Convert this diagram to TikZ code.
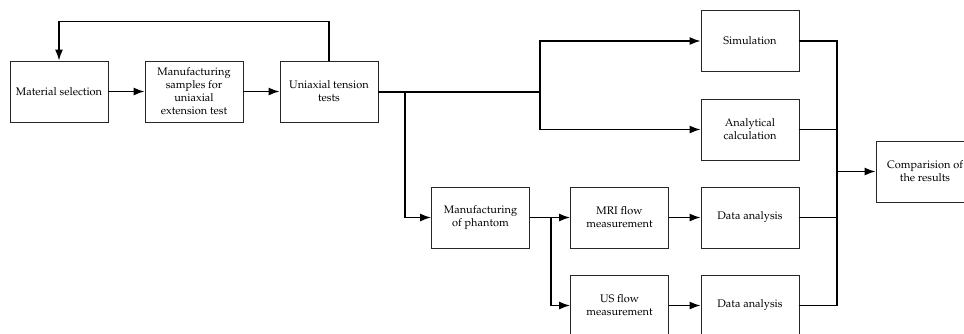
\documentclass[tikz,border=0pt]{standalone}
\usepackage[T1]{fontenc}
\usepackage{mathpazo}
\usetikzlibrary{arrows.meta}

\tikzset{
    block/.style={draw=black!85, line width=0.8pt, minimum width=98pt,
        minimum height=61pt, align=center, inner sep=2pt,
        font=\fontsize{11}{13}\selectfont},
    flow/.style={line width=1.5pt, -{Latex[length=11pt,width=8pt]}},
    line/.style={line width=1.5pt}
}

\begin{document}
\begin{tikzpicture}[x=1pt, y=-1pt]

    \useasboundingbox (0,0) rectangle (964,333);

    %% Test workflow
    % Upper row
    \node[block] (mat)  at (59, 91.5)  {Material selection};
    \node[block] (manu) at (194, 91.5) {Manufacturing\\samples for\\uniaxial\\extension test};
    \node[block] (uni)  at (329, 91.5) {Uniaxial tension\\tests};

    % Right column
    \node[block] (sim) at (750, 41)    {Simulation};
    \node[block] (ana) at (750, 129.5) {Analytical\\calculation};
    \node[block] (da1) at (750, 217.5) {Data analysis};
    \node[block] (da2) at (750, 305.5) {Data analysis};

    % Phantom row
    \node[block] (phan) at (480.5, 217.5) {Manufacturing\\of phantom};
    \node[block] (mri)  at (619.5, 217.5) {MRI flow\\measurement};
    \node[block] (us)   at (619.5, 305.5) {US flow\\measurement};

    % Result
    \node[block] (comp) at (925, 171.5) {Comparision of\\the results};

    % Branch points
    \coordinate (b1) at (405, 91.5);
    \coordinate (b2) at (540, 91.5);
    \coordinate (b3) at (551, 217.5);
    \coordinate (c)  at (837, 171.5);

    % Arrows
    \draw[flow] (mat) -- (manu);
    \draw[flow] (manu) -- (uni);
    \draw[flow] (uni.north) -- ++(0,-39) -| (mat.north);

    \draw[line, line width=2pt] (uni) -- (b2);
    \draw[flow] (b2) |- (sim);
    \draw[flow] (b2) |- (ana);
    \draw[flow] (b1) |- (phan);

    \draw[flow] (phan) -- (mri);
    \draw[flow] (b3) |- (us);
    \draw[flow] (mri) -- (da1);
    \draw[flow] (us) -- (da2);

    % Collector
    \draw[line] (sim) -| (c);
    \draw[line] (ana) -| (c);
    \draw[line] (da1) -| (c);
    \draw[line] (da2) -| (c);
    \draw[flow] (c) -- (comp);

\end{tikzpicture}
\end{document}
